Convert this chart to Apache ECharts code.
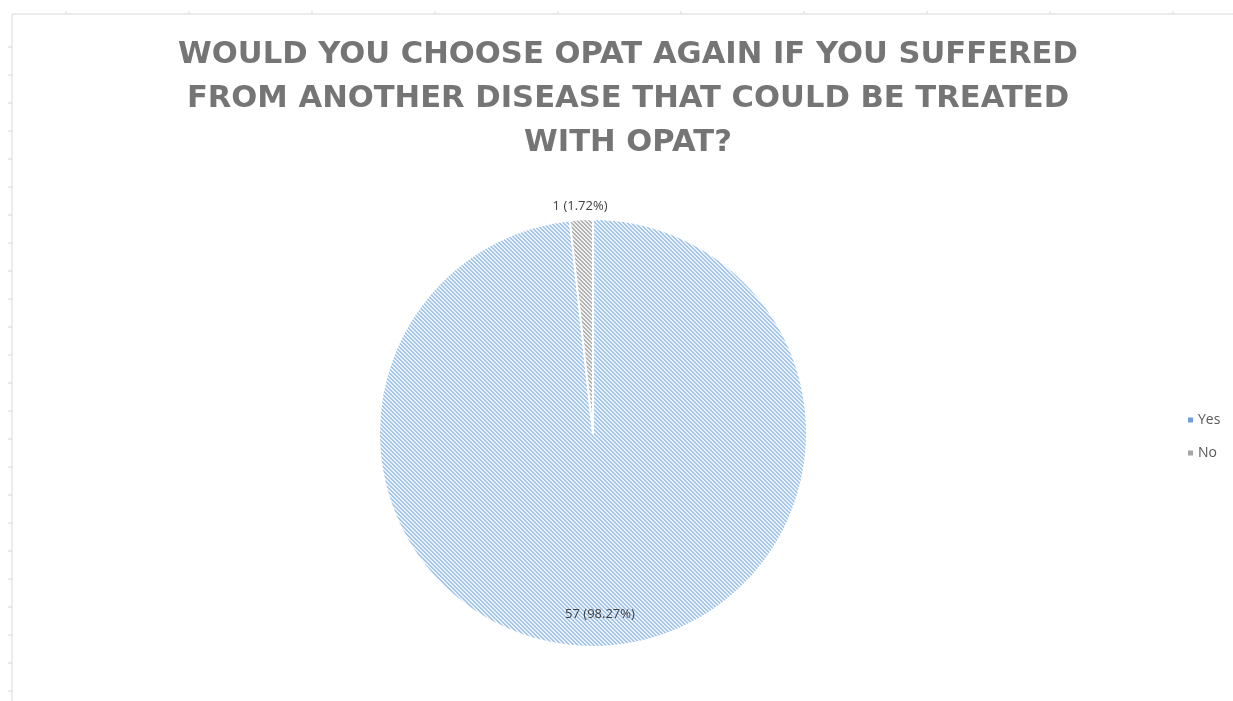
<!DOCTYPE html>
<html>
<head>
<meta charset="utf-8">
<script src="https://cdn.jsdelivr.net/npm/echarts@6/dist/echarts.min.js"></script>
<style>
html,body{margin:0;padding:0;background:#fff;}
#chart{width:1233px;height:701px;}
</style>
</head>
<body>
<div id="chart"></div>
<script>
const titleText = 'WOULD YOU CHOOSE OPAT AGAIN IF YOU SUFFERED\nFROM ANOTHER DISEASE THAT COULD BE TREATED\nWITH OPAT?';
const categories = ['Yes', 'No'];
const counts = [57, 1];
const percentLabels = ['98.27%', '1.72%'];

function hatch(bg, fg) {
  const c = document.createElement('canvas');
  c.width = 8; c.height = 8;
  const ctx = c.getContext('2d');
  ctx.fillStyle = bg; ctx.fillRect(0, 0, 8, 8);
  ctx.fillStyle = fg;
  for (let y = 0; y < 8; y++) {
    for (let x = 0; x < 8; x++) {
      const m = ((x - y) % 4 + 4) % 4;
      if (m === 0 || m === 1) ctx.fillRect(x, y, 1, 1);
    }
  }
  return { image: c, repeat: 'repeat' };
}

const fills = [hatch('#ebf3fb', '#a4c5e8'), hatch('#efefef', '#b3b3b3')];
const legendColors = ['#6e9fdc', '#a6a6a6'];
const labelOffsets = [[1, 71], [-7, -117]];

const chart = echarts.init(document.getElementById('chart'), null, { renderer: 'canvas' });

const deco = [];
deco.push({ type: 'line', shape: { x1: 12, y1: 14, x2: 1233, y2: 14 }, style: { stroke: '#d9d9d9', lineWidth: 1 }, silent: true });
deco.push({ type: 'line', shape: { x1: 12, y1: 14, x2: 12, y2: 701 }, style: { stroke: '#d9d9d9', lineWidth: 1 }, silent: true });
for (let x = 66; x < 1233; x += 123) {
  deco.push({ type: 'line', shape: { x1: x, y1: 11, x2: x, y2: 14 }, style: { stroke: '#d9d9d9', lineWidth: 1 }, silent: true });
}
for (let y = 47; y < 701; y += 28) {
  deco.push({ type: 'line', shape: { x1: 8, y1: y, x2: 12, y2: y }, style: { stroke: '#d9d9d9', lineWidth: 1 }, silent: true });
}

chart.setOption({
  backgroundColor: '#ffffff',
  animation: false,
  graphic: deco,
  title: {
    text: titleText,
    left: 623,
    textAlign: 'center',
    top: 28,
    textStyle: {
      fontFamily: 'DejaVu Sans',
      fontWeight: 'bold',
      fontSize: 30.6,
      lineHeight: 44,
      color: '#757575'
    }
  },
  legend: {
    orient: 'vertical',
    left: 1181,
    top: 408,
    icon: 'rect',
    itemWidth: 7,
    itemHeight: 7,
    itemGap: 19,
    textStyle: { fontFamily: 'Open Sans', fontSize: 14, color: '#595959', lineHeight: 14, padding: [0, 0, 0, -1] },
    data: categories.map((c, i) => ({ name: c, itemStyle: { color: legendColors[i] } }))
  },
  series: [{
    type: 'pie',
    center: [593, 433],
    radius: 214,
    startAngle: 90,
    clockwise: true,
    avoidLabelOverlap: false,
    itemStyle: { borderColor: '#ffffff', borderWidth: 2 },
    labelLine: { show: false },
    emphasis: { disabled: true },
    data: categories.map((c, i) => ({
      name: c,
      value: counts[i],
      itemStyle: { color: fills[i] },
      label: {
        show: true,
        position: 'inside',
        offset: labelOffsets[i],
        formatter: counts[i] + ' (' + percentLabels[i] + ')',
        fontFamily: 'Open Sans',
        fontSize: 13,
        color: '#404040'
      }
    }))
  }]
});
</script>
</body>
</html>
